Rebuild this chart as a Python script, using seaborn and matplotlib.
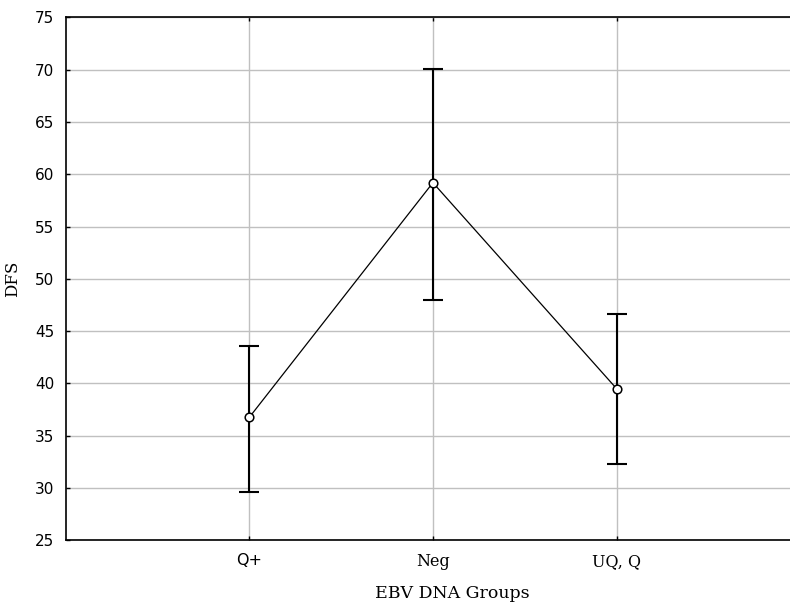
import pandas as pd
import seaborn as sns
import matplotlib.pyplot as plt

# values
groups = ['Q+', 'Neg', 'UQ, Q']
dfs_mean = [36.75, 59.2, 39.5]
dfs_low = [29.65, 48.0, 32.3]
dfs_high = [43.6, 70.1, 46.6]
y_ticks = [25, 30, 35, 40, 45, 50, 55, 60, 65, 70, 75]

df = pd.DataFrame({'group': groups, 'mean': dfs_mean, 'low': dfs_low, 'high': dfs_high})

sns.set_style('white')
plt.rcParams['font.family'] = ['DejaVu Sans']
plt.rcParams['text.color'] = 'black'
plt.rcParams['axes.labelcolor'] = 'black'
plt.rcParams['xtick.color'] = 'black'
plt.rcParams['ytick.color'] = 'black'

fig = plt.figure(figsize=(7.9, 6.02), dpi=100)
ax = fig.add_axes([0.083, 0.1025, 0.930, 0.8685])

# error bars (min/max of interval) behind the mean markers
yerr = [df['mean'] - df['low'], df['high'] - df['mean']]
ax.errorbar(df['group'], df['mean'], yerr=yerr, fmt='none', ecolor='black',
            elinewidth=1.5, capsize=7, capthick=1.5, zorder=2)

# means joined by a thin line
sns.pointplot(data=df, x='group', y='mean', errorbar=None, color='black',
              markers='o', linewidth=0.9, markersize=6.2,
              markerfacecolor='white', markeredgecolor='black',
              markeredgewidth=1.1, zorder=3, ax=ax)

ax.set_xlim(-1, 3)
ax.set_ylim(25, 75)
ax.set_yticks(y_ticks)

ax.grid(True, color='#c0c0c0', linewidth=1.0, zorder=0)
ax.set_axisbelow(True)

for side in ['left', 'bottom', 'top']:
    ax.spines[side].set_color('black')
    ax.spines[side].set_linewidth(1.2)
ax.spines['right'].set_visible(False)

ax.tick_params(axis='both', direction='in', length=3, width=1, color='black',
               labelcolor='black', top=True, bottom=True, left=True, right=False)
ax.tick_params(axis='y', labelsize=11, pad=8)
ax.tick_params(axis='x', labelsize=11.5, pad=9)
for lab in ax.get_xticklabels():
    if lab.get_text() != 'Q+':
        lab.set_family('DejaVu Serif')

ax.set_xlabel('EBV DNA Groups', family='DejaVu Serif', fontsize=12.5, color='black')
ax.set_ylabel('DFS', family='DejaVu Serif', fontsize=12, color='black')
ax.xaxis.set_label_coords(0.526, -0.085)
ax.yaxis.set_label_coords(-0.06, 0.5)

fig.savefig('out.png', dpi=100)
